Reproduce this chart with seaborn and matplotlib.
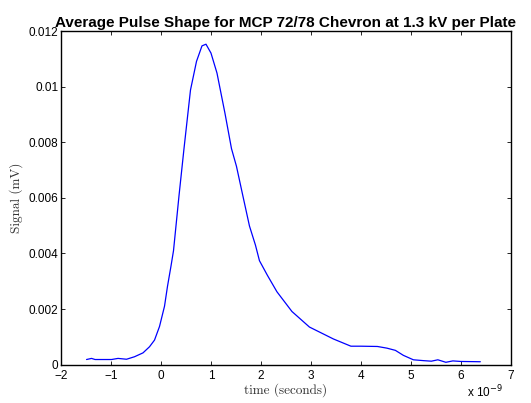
import seaborn as sns
import matplotlib.pyplot as plt
import pandas as pd

# time in units of 1e-9 s, signal in mV
time_ns = [-1.49, -1.39, -1.32, -1.15, -0.99, -0.86, -0.69, -0.53, -0.36, -0.23,
           -0.13, -0.03, 0.07, 0.13, 0.20, 0.25, 0.36, 0.46, 0.59, 0.71,
           0.82, 0.90, 1.00, 1.12, 1.28, 1.41, 1.51, 1.64, 1.77, 1.89,
           1.97, 2.13, 2.32, 2.62, 2.97, 3.45, 3.80, 4.00, 4.33, 4.52,
           4.69, 4.85, 5.05, 5.25, 5.41, 5.54, 5.70, 5.84, 6.00, 6.39]
signal = [0.00018, 0.00022, 0.00018, 0.00018, 0.00018, 0.00022, 0.00019, 0.00028, 0.00042, 0.00064,
          0.00088, 0.00137, 0.00210, 0.00282, 0.00355, 0.00410, 0.00608, 0.00778, 0.00989, 0.01092,
          0.01148, 0.01154, 0.01122, 0.01050, 0.00905, 0.00778, 0.00714, 0.00606, 0.00499, 0.00430,
          0.00374, 0.00321, 0.00262, 0.00191, 0.00135, 0.00092, 0.00066, 0.00066, 0.00065, 0.00059,
          0.00051, 0.00033, 0.00017, 0.00014, 0.00012, 0.00017, 0.00008, 0.00013, 0.00011, 0.00010]

xticks = [-2, -1, 0, 1, 2, 3, 4, 5, 6, 7]
yticks = [0, 0.002, 0.004, 0.006, 0.008, 0.01, 0.012]
ytick_labels = ['0', '0.002', '0.004', '0.006', '0.008', '0.01', '0.012']

df = pd.DataFrame({'time': time_ns, 'signal': signal})

sns.set_style('ticks')
plt.rcParams['font.family'] = ['Liberation Sans', 'DejaVu Sans']
plt.rcParams['xtick.direction'] = 'in'
plt.rcParams['ytick.direction'] = 'in'
for key in ['text.color', 'axes.labelcolor', 'xtick.color', 'ytick.color',
            'xtick.labelcolor', 'ytick.labelcolor']:
    plt.rcParams[key] = 'black'

fig = plt.figure(figsize=(5.31, 4.03), dpi=100)
ax = fig.add_axes([0.115, 0.0955, 0.847, 0.8265])

sns.lineplot(data=df, x='time', y='signal', color='#0000ff', linewidth=0.9, ax=ax)

ax.set_xlim(-2, 7)
ax.set_ylim(0, 0.012)
ax.set_xticks(xticks)
ax.set_yticks(yticks)
ax.set_yticklabels(ytick_labels)
ax.tick_params(labelsize=8.5, length=3, width=0.6, top=True, right=True,
               colors='black', labelcolor='black')
ax.tick_params(axis='x', pad=4)
ax.tick_params(axis='y', pad=2)
for s in ax.spines.values():
    s.set_linewidth(1.0)
    s.set_color('black')

ax.set_xlabel('time (seconds)', family='cmr10', fontsize=9.5, labelpad=1, color='#333333')
ax.set_ylabel('Signal (mV)', family='cmr10', fontsize=9.5, labelpad=4, color='#333333')
ax.set_title('Average Pulse Shape for MCP 72/78 Chevron at 1.3 kV per Plate',
             fontsize=11, fontweight='bold', pad=3, color='black')
ax.text(0.982, -0.058, 'x 10$^{-9}$', transform=ax.transAxes, ha='right', va='top',
        fontsize=8.5, color='black')

fig.savefig('out.png', dpi=100)
